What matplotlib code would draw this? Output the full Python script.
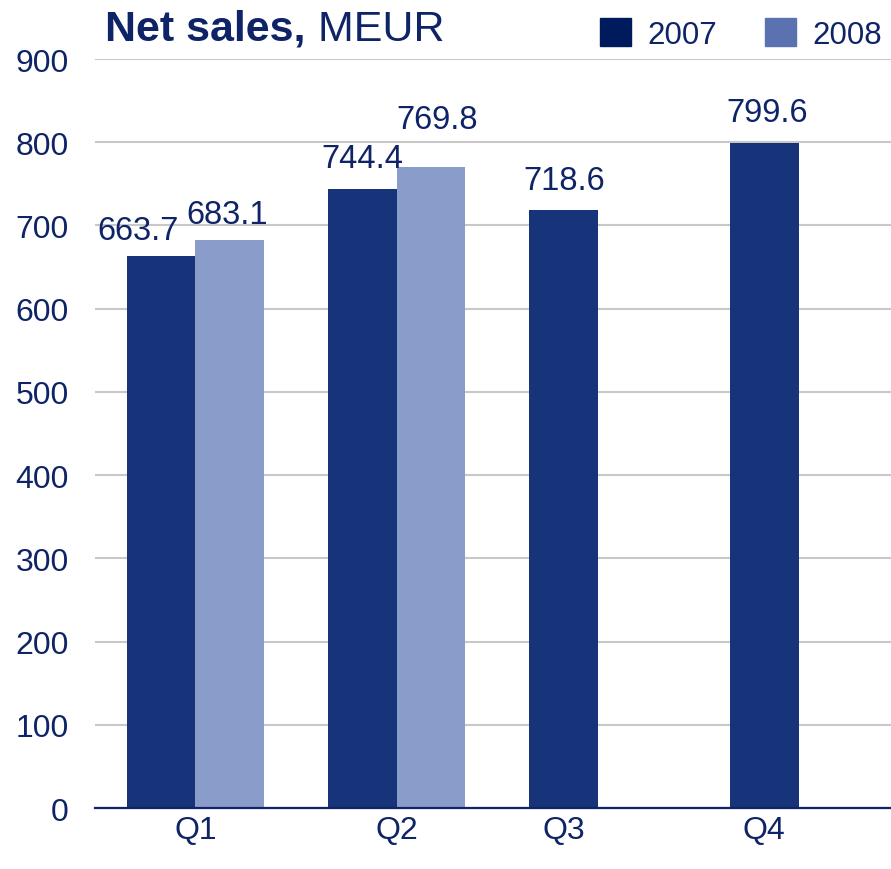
import matplotlib; matplotlib.use('Agg')
import matplotlib.pyplot as plt
import numpy as np
from matplotlib.patches import Patch

quarters = ['Q1', 'Q2', 'Q3', 'Q4']
sales_2007 = [663.7, 744.4, 718.6, 799.6]
sales_2008 = [683.1, 769.8]          # only first two quarters reported
years = ['2007', '2008']

navy = '#0F2466'
c07, c08 = '#17337A', '#8A9CC9'
leg07, leg08 = '#001A5E', '#5A72B0'

plt.rcParams['font.family'] = ['Liberation Sans', 'DejaVu Sans']

fig = plt.figure(figsize=(8.91, 8.70), dpi=100)
ax = fig.add_axes([0.1066, 0.0701, 0.8934, 0.8609])

x = np.arange(len(quarters))
w = 0.34
ax.bar(x - w/2, sales_2007, w, color=c07, zorder=2)
ax.bar(x[:len(sales_2008)] + w/2, sales_2008, w, color=c08, zorder=2)

# value labels (offsets in pixels to mimic the original placement)
off07 = [(-23, 25), (0, 30), (1, 29), (3, 30)]
off08 = [(-2, 25), (6, 48)]
for xi, v, (dx, dy) in zip(x - w/2, sales_2007, off07):
    ax.annotate(f'{v:.1f}', (xi, v), xytext=(dx*0.72, dy*0.72), textcoords='offset points',
                ha='center', va='center', fontsize=23.5, color=navy, zorder=3)
for xi, v, (dx, dy) in zip(x[:len(sales_2008)] + w/2, sales_2008, off08):
    ax.annotate(f'{v:.1f}', (xi, v), xytext=(dx*0.72, dy*0.72), textcoords='offset points',
                ha='center', va='center', fontsize=23.5, color=navy, zorder=3)

ax.set_xlim(-0.5, 3.46)
ax.set_ylim(0, 900)
ax.set_yticks(range(0, 901, 100))
ax.yaxis.grid(True, color='#C8C8C8', lw=1.5, zorder=0)
ax.set_axisbelow(True)
# Q1/Q2 labels at group centre, Q3/Q4 under the lone 2007 bar
tick_pos = list(x[:2]) + list(x[2:] - w/2)
ax.set_xticks(tick_pos)
ax.set_xticklabels(quarters)
ax.tick_params(length=0, labelsize=23, labelcolor=navy)
ax.tick_params(axis='y', pad=19)
ax.tick_params(axis='x', pad=5)
for s in ['top', 'right', 'left']:
    ax.spines[s].set_visible(False)
ax.spines['bottom'].set_color(navy)
ax.spines['bottom'].set_linewidth(1.6)
ax.spines['bottom'].set_zorder(4)

t1 = fig.text(0.118, 0.953, 'Net sales,', fontsize=31, fontweight='bold', color=navy, va='baseline')
ax.annotate(' MEUR', xy=(1, 0), xycoords=t1, fontsize=31, color=navy, va='bottom')

handles = [Patch(color=leg07), Patch(color=leg08)]
fig.legend(handles, years, loc='upper right', bbox_to_anchor=(1.0, 0.9885), ncol=2, frameon=False,
           fontsize=22.5, labelcolor=navy, handlelength=1.0, handleheight=1.0,
           handletextpad=0.52, columnspacing=1.52, borderaxespad=0.15, borderpad=0.15)

fig.savefig('out.png', dpi=100)
